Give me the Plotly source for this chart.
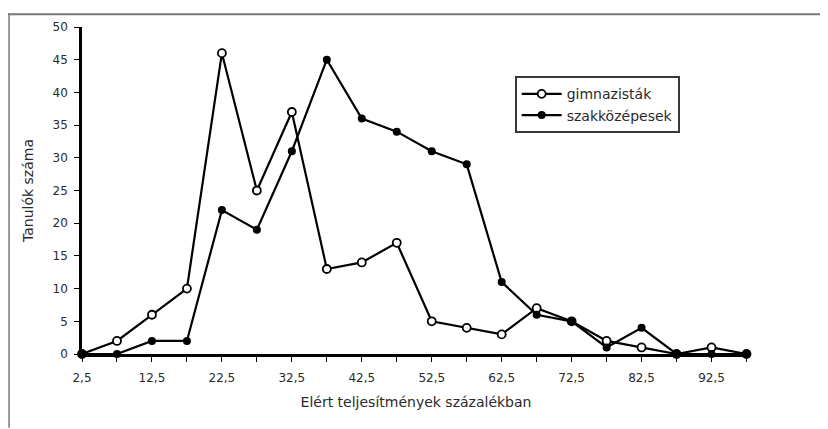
import plotly.graph_objects as go

x_vals = [2.5, 7.5, 12.5, 17.5, 22.5, 27.5, 32.5, 37.5, 42.5, 47.5,
          52.5, 57.5, 62.5, 67.5, 72.5, 77.5, 82.5, 87.5, 92.5, 97.5]
gimnazistak = [0, 2, 6, 10, 46, 25, 37, 13, 14, 17, 5, 4, 3, 7, 5, 2, 1, 0, 1, 0]
szakkozepesek = [0, 0, 2, 2, 22, 19, 31, 45, 36, 34, 31, 29, 11, 6, 5, 1, 4, 0, 0, 0]
y_ticks = [0, 5, 10, 15, 20, 25, 30, 35, 40, 45, 50]
x_ticks = [2.5, 12.5, 22.5, 32.5, 42.5, 52.5, 62.5, 72.5, 82.5, 92.5]

# page has an 8px body margin, so the figure is drawn 8px in from the corner
OFF = 8
W, H = 828 - OFF, 429 - OFF
L, T = 82 - OFF, 22 - OFF
pw, ph = 668.5, 332
R, B = W - L - pw, H - T - ph

FAM = "DejaVu Sans, Liberation Sans, Arial, sans-serif"
TXT = "#2a2a2a"

fig = go.Figure()
fig.add_trace(go.Scatter(
    x=x_vals, y=gimnazistak, name="gimnazisták", mode="lines+markers",
    line=dict(color="black", width=2.2),
    marker=dict(symbol="circle", size=8, color="white", line=dict(color="black", width=1.8)),
    cliponaxis=False))
fig.add_trace(go.Scatter(
    x=x_vals, y=szakkozepesek, name="szakközépesek", mode="lines+markers",
    line=dict(color="black", width=2.2),
    marker=dict(symbol="circle", size=8, color="black"),
    cliponaxis=False))

fig.update_layout(
    width=W, height=H, margin=dict(l=L, r=R, t=T, b=B),
    paper_bgcolor="white", plot_bgcolor="white",
    separators=",.",
    font=dict(family=FAM, size=12, color=TXT),
    showlegend=True,
    legend=dict(x=(515 - 82) / pw, y=(354 - 72) / ph, xanchor="left", yanchor="top",
                bordercolor="#3a3a3a", borderwidth=2, bgcolor="white",
                font=dict(family=FAM, size=14, color=TXT),
                tracegroupgap=0, itemwidth=40),
    xaxis=dict(range=[2.5, 98], tickvals=x_ticks, tickformat=".1f",
               showgrid=False, zeroline=False, showline=True, linecolor="black", linewidth=2.5,
               ticks="outside", ticklen=5, tickcolor="black", tickwidth=1.2,
               ticklabelstandoff=6,
               tickfont=dict(family=FAM, size=12, color=TXT),
               minor=dict(dtick=5, tick0=2.5, ticks="outside", ticklen=5, tickcolor="black", tickwidth=1.2),
               title=dict(text="Elért teljesítmények százalékban", standoff=14,
                          font=dict(family=FAM, size=14, color=TXT))),
    yaxis=dict(range=[0, 50], tickvals=y_ticks, showgrid=False, zeroline=False,
               showline=True, linecolor="black", linewidth=2.5,
               ticks="outside", ticklen=5, tickcolor="black", tickwidth=1.2,
               ticklabelstandoff=4,
               tickfont=dict(family=FAM, size=12, color=TXT),
               title=dict(text="Tanulók száma", standoff=16,
                          font=dict(family=FAM, size=14, color=TXT))),
)

# outer frame lines (top and left) of the original figure
fig.add_shape(type="line", xref="paper", yref="paper",
              x0=-L / pw, x1=(W - L) / pw, y0=(T + ph - 1) / ph, y1=(T + ph - 1) / ph,
              line=dict(color="#777", width=2))
fig.add_shape(type="line", xref="paper", yref="paper",
              x0=(1 - L) / pw, x1=(1 - L) / pw, y0=(T + ph) / ph, y1=-B / ph,
              line=dict(color="#777", width=1.5))

fig.write_html("out.html")
